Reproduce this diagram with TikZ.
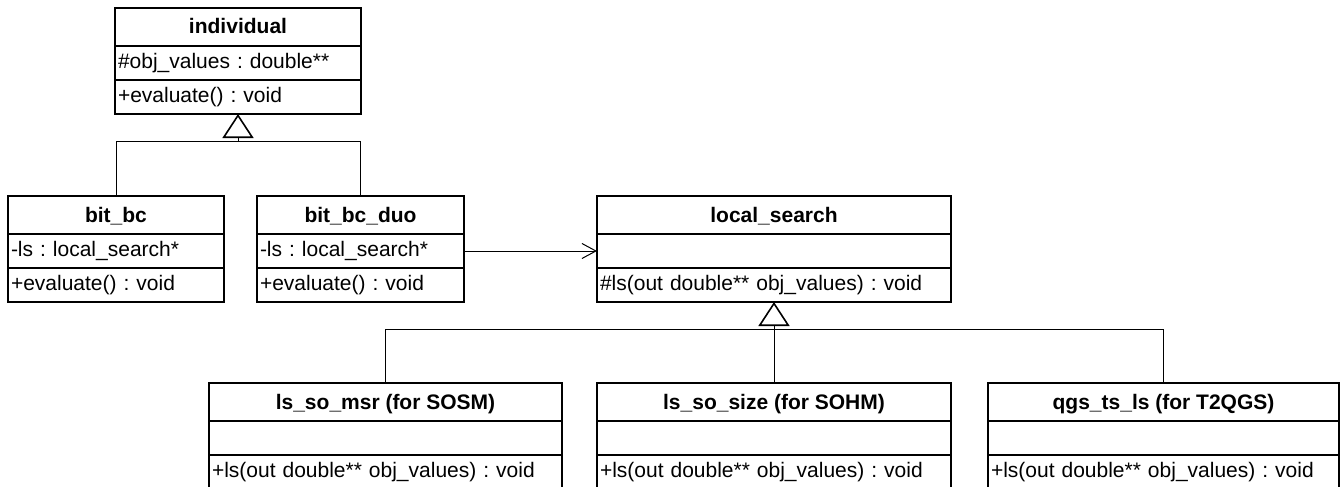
\documentclass[tikz,border=0pt]{standalone}
\usepackage{fontspec}
\setmainfont{Liberation Sans}
\usetikzlibrary{arrows.meta}
\frenchspacing
\begin{document}
\begin{tikzpicture}[x=1pt,y=-1pt,
  box/.style={draw, line width=1.6pt, inner sep=0pt, outer sep=0pt},
  ttl/.style={box, minimum height=38pt, text height=17pt, text depth=3pt, font=\fontsize{21}{25}\selectfont\bfseries},
  row/.style={box, minimum height=34pt, text height=15pt, text depth=5pt, inner xsep=3pt, align=left, font=\fontsize{21}{25}\selectfont},
  link/.style={line width=1pt},
  gen/.style={-{Triangle[open, length=24pt, width=31pt, line width=1.6pt]}},
  assoc/.style={-{Straight Barb[length=14pt, width=15pt, line width=1pt]}}
]
\clip (0,0) rectangle (1341,487);
\useasboundingbox (0,0) rectangle (1341,487);

% individual
\node[ttl, minimum width=246pt] (ind) at (238,27) {individual};
\node[row, text width=240pt] (ind-a) at (238,63) {\#obj\_values : double**};
\node[row, text width=240pt] (ind-o) at (238,97) {+evaluate() : void};

% bit_bc
\node[ttl, minimum width=216pt] (bb) at (116,215) {bit\_bc};
\node[row, text width=210pt] (bb-a) at (116,251) {-ls : local\_search*};
\node[row, text width=210pt] (bb-o) at (116,285) {+evaluate() : void};

% bit_bc_duo
\node[ttl, minimum width=207pt] (bd) at (360.5,215) {bit\_bc\_duo};
\node[row, text width=201pt] (bd-a) at (360.5,251) {-ls : local\_search*};
\node[row, text width=201pt] (bd-o) at (360.5,285) {+evaluate() : void};

% local_search
\node[ttl, minimum width=354pt] (ls) at (774,215) {local\_search};
\node[row, text width=348pt] (ls-a) at (774,251) {};
\node[row, text width=348pt] (ls-o) at (774,285) {\#ls(out double** obj\_values) : void};

% subclasses
\node[ttl, minimum width=353pt] (s1) at (385.5,402) {ls\_so\_msr (for SOSM)};
\node[row, text width=347pt] (s1-a) at (385.5,438) {};
\node[row, text width=347pt] (s1-o) at (385.5,472) {+ls(out double** obj\_values) : void};

\node[ttl, minimum width=354pt] (s2) at (774,402) {ls\_so\_size (for SOHM)};
\node[row, text width=348pt] (s2-a) at (774,438) {};
\node[row, text width=348pt] (s2-o) at (774,472) {+ls(out double** obj\_values) : void};

\node[ttl, minimum width=351pt] (s3) at (1163.5,402) {qgs\_ts\_ls (for T2QGS)};
\node[row, text width=345pt] (s3-a) at (1163.5,438) {};
\node[row, text width=345pt] (s3-o) at (1163.5,472) {+ls(out double** obj\_values) : void};

% generalization: individual
\coordinate (j1) at (238,141);
\draw[link] (bb.north) |- (j1);
\draw[link] (bd.north) |- (j1);
\draw[link, gen] (j1) -- (ind-o.south);

% generalization: local_search
\coordinate (j2) at (774,329);
\draw[link] (s1.north) |- (j2);
\draw[link] (s3.north) |- (j2);
\draw[link] (s2.north) -- (j2);
\draw[link, gen] (j2) -- (ls-o.south);

% association
\draw[link, assoc] (bd-a.east) -- (ls-a.west);
\end{tikzpicture}
\end{document}
